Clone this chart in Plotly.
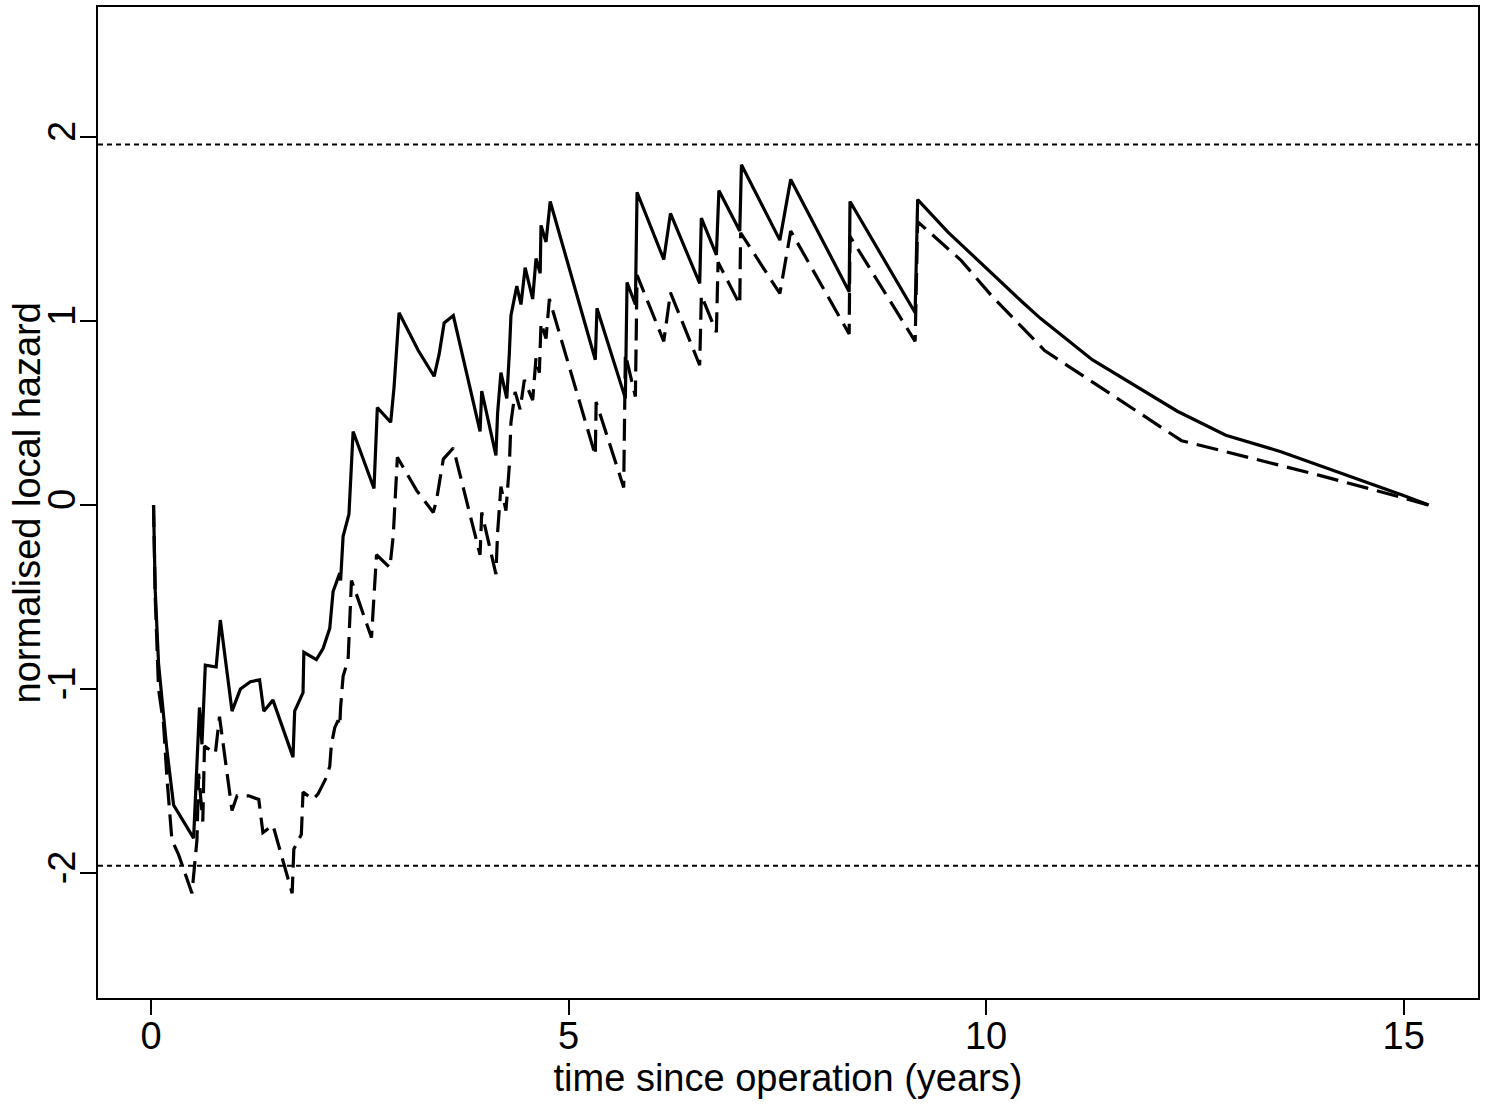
import plotly.graph_objects as go

# Solid line: normalised local hazard
solid_t = [0.03, 0.05, 0.09, 0.13, 0.19, 0.27, 0.51, 0.58, 0.61, 0.65, 0.78, 0.83, 0.97, 1.07, 1.19, 1.30,
           1.35, 1.46, 1.70, 1.72, 1.82, 1.83, 1.98, 2.06, 2.14, 2.18, 2.26, 2.27, 2.30, 2.37, 2.42, 2.67,
           2.71, 2.87, 2.91, 2.97, 3.20, 3.39, 3.45, 3.51, 3.62, 3.94, 3.96, 4.13, 4.15, 4.19, 4.26, 4.29,
           4.31, 4.38, 4.43, 4.48, 4.57, 4.61, 4.66, 4.67, 4.73, 4.78, 5.32, 5.34, 5.68, 5.70, 5.80, 5.82,
           6.14, 6.22, 6.57, 6.59, 6.77, 6.80, 7.05, 7.07, 7.53, 7.66, 8.36, 8.37, 9.15, 9.18, 9.54, 10.43,
           10.65, 11.27, 12.29, 12.87, 13.53, 14.99, 15.30]
solid_h = [0.0, -0.46, -0.86, -1.04, -1.33, -1.63, -1.81, -1.10, -1.30, -0.87, -0.88, -0.625, -1.12, -1.00, -0.96, -0.95,
           -1.12, -1.06, -1.37, -1.12, -1.02, -0.80, -0.84, -0.78, -0.67, -0.47, -0.37, -0.41, -0.17, -0.05, 0.40, 0.09,
           0.53, 0.45, 0.64, 1.045, 0.84, 0.70, 0.82, 0.99, 1.03, 0.40, 0.62, 0.27, 0.50, 0.72, 0.58, 0.82,
           1.03, 1.19, 1.09, 1.29, 1.12, 1.34, 1.26, 1.52, 1.43, 1.65, 0.79, 1.07, 0.58, 1.21, 1.09, 1.70,
           1.335, 1.585, 1.205, 1.56, 1.36, 1.71, 1.49, 1.85, 1.44, 1.77, 1.16, 1.65, 1.045, 1.66, 1.485, 1.105,
           1.015, 0.79, 0.51, 0.38, 0.29, 0.054, 0.0]

# Dashed line
dashed_t = [0.03, 0.05, 0.09, 0.15, 0.19, 0.25, 0.33, 0.49, 0.55, 0.57, 0.62, 0.64, 0.77, 0.82, 0.97, 1.03,
            1.17, 1.29, 1.34, 1.46, 1.69, 1.71, 1.80, 1.82, 1.94, 2.00, 2.10, 2.14, 2.16, 2.20, 2.24, 2.26,
            2.27, 2.30, 2.36, 2.40, 2.44, 2.64, 2.70, 2.86, 2.90, 2.95, 3.18, 3.38, 3.42, 3.50, 3.62, 3.94,
            3.96, 4.13, 4.15, 4.19, 4.25, 4.29, 4.31, 4.36, 4.42, 4.47, 4.57, 4.61, 4.65, 4.67, 4.73, 4.77,
            5.32, 5.33, 5.66, 5.68, 5.80, 5.82, 6.14, 6.22, 6.57, 6.59, 6.77, 6.79, 7.05, 7.06, 7.53, 7.66,
            8.36, 8.37, 9.15, 9.18, 9.70, 10.08, 10.70, 11.23, 12.34, 12.87, 13.98, 14.95, 15.30]
dashed_h = [0.0, -0.50, -1.00, -1.19, -1.48, -1.82, -1.90, -2.11, -1.82, -1.46, -1.72, -1.31, -1.35, -1.15, -1.66, -1.58,
            -1.58, -1.60, -1.78, -1.74, -2.11, -1.87, -1.79, -1.56, -1.60, -1.57, -1.48, -1.42, -1.30, -1.21, -1.17, -1.20,
            -1.10, -0.93, -0.84, -0.41, -0.46, -0.72, -0.27, -0.34, -0.17, 0.26, 0.08, -0.04, 0.03, 0.25, 0.31, -0.27,
            -0.04, -0.375, -0.15, 0.10, -0.03, 0.21, 0.45, 0.615, 0.52, 0.68, 0.57, 0.80, 0.72, 0.99, 0.905, 1.12,
            0.27, 0.56, 0.096, 0.82, 0.59, 1.25, 0.89, 1.155, 0.76, 1.14, 0.94, 1.32, 1.09, 1.48, 1.15, 1.49,
            0.93, 1.46, 0.89, 1.54, 1.33, 1.13, 0.84, 0.68, 0.35, 0.29, 0.163, 0.045, 0.0]

ref_levels = [1.96, -1.96]
x_ticks = [0, 5, 10, 15]
y_ticks = [-2, -1, 0, 1, 2]

FONT = "Liberation Sans, Arial, Helvetica, sans-serif"
FS = 38

fig = go.Figure()
fig.add_trace(go.Scatter(x=solid_t, y=solid_h, mode="lines",
                         line=dict(color="black", width=3.2), showlegend=False))
fig.add_trace(go.Scatter(x=dashed_t, y=dashed_h, mode="lines",
                         line=dict(color="black", width=3.2, dash="22px,9px"), showlegend=False))

for lv in ref_levels:
    fig.add_shape(type="line", xref="paper", x0=0, x1=1, yref="y", y0=lv, y1=lv,
                  line=dict(color="black", width=2, dash="5px,4px"), layer="below")

fig.add_annotation(text="normalised local hazard", xref="paper", yref="paper",
                   x=-0.0515, y=0.50, xanchor="center", yanchor="middle",
                   textangle=-90, showarrow=False, font=dict(size=FS))

fig.update_layout(
    width=1493, height=1110,
    margin=dict(l=98, r=15, t=7, b=112),
    plot_bgcolor="white", paper_bgcolor="white",
    font=dict(family=FONT, color="black", size=FS),
)
fig.update_xaxes(range=[-0.635, 15.89], tickvals=x_ticks, ticktext=[str(v) for v in x_ticks],
                 showgrid=False, zeroline=False, showline=True, linecolor="black", linewidth=2,
                 mirror=True, ticks="outside", ticklen=15, tickwidth=2, tickcolor="black",
                 tickfont=dict(size=FS), ticklabelstandoff=-12, automargin=False,
                 title=dict(text="time since operation (years)", font=dict(size=FS), standoff=0))
fig.update_yaxes(range=[-2.679, 2.707], tickvals=y_ticks, ticktext=[str(v) for v in y_ticks],
                 showgrid=False, zeroline=False, showline=True, linecolor="black", linewidth=2,
                 mirror=True, ticks="outside", ticklen=16, tickwidth=2, tickcolor="black",
                 tickangle=-90, tickfont=dict(size=FS), ticklabelstandoff=-10, automargin=False)

fig.write_html("out.html")
